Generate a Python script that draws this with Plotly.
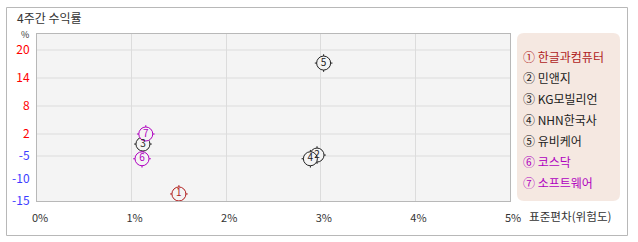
import plotly.graph_objects as go
import numpy as np

# ---- data ----
names = ["한글과컴퓨터", "민앤지", "KG모빌리언", "NHN한국사", "유비케어", "코스닥", "소프트웨어"]
circled = ["①", "②", "③", "④", "⑤", "⑥", "⑦"]
numbers = ["1", "2", "3", "4", "5", "6", "7"]
std_dev = [1.50, 2.96, 1.12, 2.89, 3.03, 1.11, 1.15]      # 표준편차 (%)
returns = [-13.4, -4.7, -1.2, -5.6, 17.2, -5.6, 2.0]      # 4주간 수익률 (%)
x_ticks = [0, 1, 2, 3, 4, 5]
x_tick_labels = ["0%", "1%", "2%", "3%", "4%", "5%"]
y_ticks = [20, 14, 8, 2, -5, -10, -15]
y_tick_labels = ["20", "14", "8", "2", "-5", "-10", "-15"]
y_grid = [20, 14, 8, 2, -5]

# ---- styles ----
RED = "#b01c1c"
BLK = "#222222"
MAG = "#b000c0"
colors = [RED, BLK, BLK, BLK, BLK, MAG, MAG]
FONT = "Noto Sans CJK KR"

W, H = 638, 242
L, R, T, B = 37, 128, 34, 41
PW, PH = W - L - R, H - T - B

# piecewise-linear y scale of the original chart (break points in axis units)
scale_vals = [-15, -10, -5, 2, 8, 14, 20]
scale_units = [0, 22, 45, 67, 95, 123, 151]


def yscale(v):
    return np.interp(v, scale_vals, scale_units)


def px(xp):
    return (xp - L) / PW


def py(yp):
    return (H - B - yp) / PH


ypos = yscale(returns)

fig = go.Figure()
# cross ticks (under circles)
fig.add_trace(go.Scatter(
    x=std_dev, y=ypos, mode="markers", hoverinfo="skip",
    marker=dict(symbol="cross-thin", size=12.6, color=colors,
                line=dict(color=colors, width=1)),
    showlegend=False))
# circles with numbers
fig.add_trace(go.Scatter(
    x=std_dev, y=ypos, mode="markers+text", text=numbers,
    textposition="middle center",
    textfont=dict(family=FONT, size=10, color=colors),
    customdata=np.array([names, returns], dtype=object).T,
    hovertemplate="%{customdata[0]}<br>%{x}% / %{customdata[1]}%<extra></extra>",
    marker=dict(symbol="circle", size=14, color="#f4f4f4",
                line=dict(color=colors, width=1)),
    showlegend=False))

tick_colors = ["#ff0000" if v > 0 else "#3c3cff" for v in y_ticks]
fig.update_layout(
    width=W, height=H,
    margin=dict(l=L, r=R, t=T, b=B, pad=0),
    paper_bgcolor="white", plot_bgcolor="#f4f4f4",
    font=dict(family=FONT, size=12, color="#333333"),
    xaxis=dict(range=[0, 5], tickvals=x_ticks, ticktext=x_tick_labels,
               showgrid=True, gridcolor="#dcdcdc", gridwidth=1,
               zeroline=False, showline=True, linecolor="#b8b8b8", mirror=True,
               ticks="", ticklabelstandoff=7, ticklabelshift=3,
               tickfont=dict(size=11, color="#333333")),
    yaxis=dict(range=[0, PH], tickvals=list(yscale(y_ticks)),
               ticktext=[f"<span style='color:{c}'>{t}</span>" for t, c in zip(y_tick_labels, tick_colors)],
               showgrid=False, zeroline=False, showline=True, linecolor="#b8b8b8",
               mirror=True, ticks="", ticklabelstandoff=4,
               tickfont=dict(size=12)),
)

shapes = []
# horizontal grid lines
for v in y_grid:
    shapes.append(dict(type="line", xref="x domain", yref="y", x0=0, x1=1,
                       y0=float(yscale(v)), y1=float(yscale(v)),
                       line=dict(color="#dcdcdc", width=1), layer="below"))
# outer frame
shapes.append(dict(type="rect", xref="paper", yref="paper",
                   x0=px(6.5), x1=px(627.5), y0=py(235.5), y1=py(7.5),
                   line=dict(color="#b8b8b8", width=1)))
# legend box (rounded)
x0, x1, y0, y1 = 517, 620, 33, 201
r = 7
rx, ry = r / PW, r / PH
X0, X1, Y0, Y1 = px(x0), px(x1), py(y1), py(y0)
path = (f"M {X0+rx},{Y0} L {X1-rx},{Y0} Q {X1},{Y0} {X1},{Y0+ry} "
        f"L {X1},{Y1-ry} Q {X1},{Y1} {X1-rx},{Y1} L {X0+rx},{Y1} "
        f"Q {X0},{Y1} {X0},{Y1-ry} L {X0},{Y0+ry} Q {X0},{Y0} {X0+rx},{Y0} Z")
shapes.append(dict(type="path", xref="paper", yref="paper", path=path,
                   fillcolor="#f5e8e1", line=dict(width=0)))
fig.update_layout(shapes=shapes)

ann = []
ann.append(dict(text="4주간 수익률", xref="paper", yref="paper", x=px(15), y=py(18),
                xanchor="left", yanchor="middle", showarrow=False,
                font=dict(size=12, color="#333333")))
ann.append(dict(text="%", xref="paper", yref="paper", x=px(25), y=py(34),
                xanchor="center", yanchor="middle", showarrow=False,
                font=dict(size=9, color="#333333")))
ann.append(dict(text="표준편차(위험도)", xref="paper", yref="paper", x=px(527), y=py(216),
                xanchor="left", yanchor="middle", showarrow=False,
                font=dict(size=11.6, color="#333333")))
for i, (c, n, col) in enumerate(zip(circled, names, colors)):
    ann.append(dict(text=c + " " + n, xref="paper", yref="paper", x=px(521), y=py(56 + i * 21),
                    xanchor="left", yanchor="middle", showarrow=False,
                    font=dict(size=12, color=col)))
fig.update_layout(annotations=ann)

fig.write_html("out.html")
